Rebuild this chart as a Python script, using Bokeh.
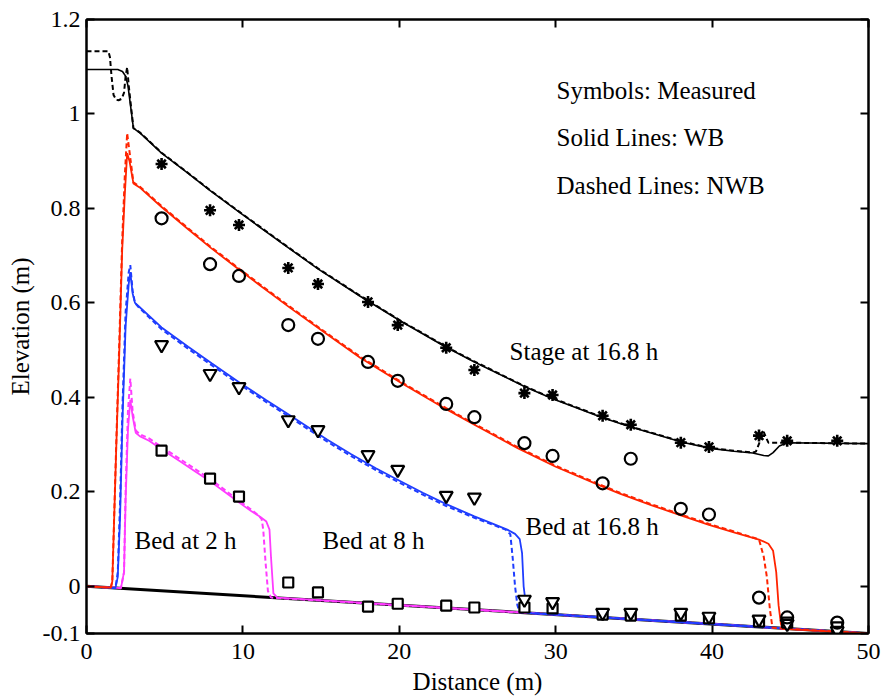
from bokeh.plotting import figure
from bokeh.models import Range1d, FixedTicker, LinearAxis
from bokeh.embed import file_html
from bokeh.resources import INLINE
from bokeh.core.properties import value

# ---- initial bed ----
bed0_x = [0, 50]
bed0_y = [0.0, -0.1]

# ---- simulated bed at 2 h ----
bed2_wb_x = [0, 2.2, 2.4, 2.5, 2.65, 2.8, 2.95, 3.15, 3.4, 4.0, 4.8, 6.0, 7.0, 8.0, 9.0, 9.85, 10.5, 11.1, 11.5, 11.7, 11.8, 11.95, 12.2, 50]
bed2_wb_y = [0.0, -0.004, 0.03, 0.18, 0.33, 0.395, 0.36, 0.325, 0.318, 0.308, 0.29, 0.264, 0.242, 0.22, 0.196, 0.175, 0.16, 0.147, 0.137, 0.12, 0.06, -0.015, -0.024, -0.1]
bed2_nwb_x = [0, 2.2, 2.4, 2.5, 2.65, 2.8, 2.95, 3.15, 3.4, 4.0, 4.8, 6.0, 7.0, 8.0, 9.0, 9.85, 10.5, 11.0, 11.2, 11.3, 11.45, 11.6, 11.8, 50]
bed2_nwb_y = [0.0, -0.004, 0.03, 0.2, 0.37, 0.44, 0.37, 0.33, 0.322, 0.313, 0.295, 0.269, 0.247, 0.225, 0.2, 0.179, 0.163, 0.15, 0.142, 0.12, 0.05, -0.01, -0.024, -0.1]

# ---- simulated bed at 8 h ----
bed8_wb_x = [0, 1.85, 2.0, 2.15, 2.3, 2.5, 2.7, 2.8, 2.95, 3.1, 3.3, 4.8, 6.5, 8.0, 9.8, 11.5, 13.0, 15.4, 16.9, 18.5, 19.8, 21.5, 23.0, 24.8, 26.0, 26.9, 27.4, 27.7, 27.85, 27.95, 28.1, 28.3, 50]
bed8_wb_y = [0.0, -0.004, 0.02, 0.15, 0.35, 0.55, 0.64, 0.665, 0.62, 0.6, 0.594, 0.548, 0.507, 0.472, 0.431, 0.394, 0.362, 0.31, 0.28, 0.25, 0.227, 0.198, 0.174, 0.148, 0.132, 0.12, 0.111, 0.1, 0.07, 0.0, -0.04, -0.057, -0.1]
bed8_nwb_x = [0, 1.85, 2.0, 2.15, 2.3, 2.5, 2.7, 2.8, 2.95, 3.1, 3.3, 4.8, 6.5, 8.0, 9.8, 11.5, 13.0, 15.4, 16.9, 18.5, 19.8, 21.5, 23.0, 24.8, 26.0, 26.8, 27.1, 27.25, 27.4, 27.55, 27.7, 50]
bed8_nwb_y = [0.0, -0.004, 0.03, 0.18, 0.38, 0.58, 0.665, 0.68, 0.625, 0.6, 0.592, 0.544, 0.503, 0.468, 0.427, 0.39, 0.358, 0.306, 0.276, 0.246, 0.223, 0.194, 0.17, 0.145, 0.13, 0.12, 0.11, 0.06, 0.0, -0.04, -0.055, -0.1]

# ---- simulated bed at 16.8 h ----
bed16_wb_x = [0, 1.55, 1.65, 1.9, 2.1, 2.28, 2.45, 2.6, 2.75, 3.0, 3.45, 4.8, 6.5, 7.93, 9.5, 11.1, 13.0, 15.4, 17.5, 20.1, 23.0, 24.8, 27.6, 30.0, 33.0, 34.1, 36.1, 38.0, 39.8, 41.5, 43.0, 43.6, 43.9, 44.1, 44.25, 44.4, 44.5, 50]
bed16_wb_y = [0.0, -0.003, 0.01, 0.29, 0.5, 0.71, 0.83, 0.917, 0.9, 0.853, 0.843, 0.803, 0.756, 0.717, 0.677, 0.637, 0.59, 0.533, 0.484, 0.431, 0.375, 0.342, 0.292, 0.253, 0.211, 0.196, 0.172, 0.15, 0.13, 0.113, 0.099, 0.09, 0.075, 0.03, -0.04, -0.08, -0.09, -0.1]
bed16_nwb_x = [0, 1.55, 1.65, 1.9, 2.1, 2.28, 2.45, 2.6, 2.75, 3.0, 3.45, 4.8, 6.5, 7.93, 9.5, 11.1, 13.0, 15.4, 17.5, 20.1, 23.0, 24.8, 27.6, 30.0, 33.0, 34.1, 36.1, 38.0, 39.8, 41.5, 43.0, 43.3, 43.5, 43.7, 43.86, 50]
bed16_nwb_y = [0.0, -0.003, 0.01, 0.3, 0.52, 0.73, 0.87, 0.959, 0.92, 0.855, 0.845, 0.805, 0.758, 0.719, 0.679, 0.639, 0.592, 0.535, 0.486, 0.433, 0.377, 0.344, 0.294, 0.255, 0.213, 0.198, 0.174, 0.152, 0.132, 0.115, 0.099, 0.063, 0.02, -0.05, -0.088, -0.1]

# ---- simulated water stage at 16.8 h ----
stage_wb_x = [0, 2.0, 2.3, 2.5, 2.65, 3.0, 3.45, 4.8, 6.5, 7.93, 9.85, 12.6, 14.8, 17.5, 20.1, 23.0, 24.8, 28.0, 29.8, 33.0, 34.8, 38.1, 39.9, 41.4, 42.6, 43.3, 43.6, 43.9, 44.3, 44.8, 50]
stage_wb_y = [1.094, 1.094, 1.09, 1.08, 1.06, 0.97, 0.959, 0.917, 0.874, 0.837, 0.79, 0.724, 0.672, 0.614, 0.561, 0.506, 0.475, 0.423, 0.397, 0.357, 0.337, 0.305, 0.292, 0.286, 0.282, 0.277, 0.276, 0.283, 0.297, 0.304, 0.302]
stage_nwb_x = [0, 1.4, 1.5, 1.6, 1.73, 1.9, 2.05, 2.25, 2.4, 2.5, 2.6, 2.7, 3.0, 3.45, 4.8, 6.5, 7.93, 9.85, 12.6, 14.8, 17.5, 20.1, 23.0, 24.8, 28.0, 29.8, 33.0, 34.8, 38.1, 39.9, 41.4, 42.6, 42.8, 43.1, 43.3, 43.45, 43.6, 44.8, 50]
stage_nwb_y = [1.133, 1.133, 1.12, 1.08, 1.04, 1.03, 1.029, 1.032, 1.045, 1.08, 1.099, 1.06, 0.97, 0.96, 0.918, 0.875, 0.838, 0.791, 0.725, 0.673, 0.615, 0.562, 0.507, 0.476, 0.424, 0.398, 0.358, 0.338, 0.306, 0.293, 0.287, 0.283, 0.285, 0.31, 0.327, 0.315, 0.304, 0.304, 0.302]

# ---- measured data ----
meas_x = [4.8, 7.9, 9.75, 12.9, 14.8, 18.0, 19.9, 23.0, 24.8, 28.0, 29.8, 33.0, 34.8, 38.0, 39.8, 43.0, 44.8, 48.0]
meas_stage = [0.894, 0.796, 0.765, 0.674, 0.640, 0.602, 0.553, 0.505, 0.458, 0.409, 0.405, 0.361, 0.342, 0.304, 0.295, 0.319, 0.308, 0.308]
meas_bed16 = [0.779, 0.682, 0.657, 0.553, 0.524, 0.475, 0.435, 0.386, 0.358, 0.303, 0.276, 0.218, 0.270, 0.164, 0.152, -0.024, -0.066, -0.077]
meas_bed8 = [0.511, 0.450, 0.422, 0.352, 0.331, 0.278, 0.247, 0.192, 0.188, -0.028, -0.033, -0.056, -0.056, -0.056, -0.064, -0.070, -0.079, -0.094]
meas_bed2 = [0.287, 0.228, 0.190, 0.008, -0.013, -0.043, -0.037, -0.041, -0.045, -0.045, -0.047, -0.060, -0.062, -0.062, -0.068, -0.075, -0.077, -0.087]

x_ticks = [0, 10, 20, 30, 40, 50]
y_ticks = [-0.1, 0, 0.2, 0.4, 0.6, 0.8, 1, 1.2]
y_tick_labels = ["-0.1", "0", "0.2", "0.4", "0.6", "0.8", "1", "1.2"]

FONT = "Liberation Serif"
RED = "#ff2400"
BLUE = "#1f3dff"
PINK = "#ff3cff"
DASH = "5 3"

p = figure(width=884, height=697, output_backend="svg", toolbar_location=None,
           x_range=Range1d(0, 50), y_range=Range1d(-0.1, 1.2),
           min_border_left=86, min_border_right=16, min_border_top=19, min_border_bottom=63)
p.background_fill_color = "white"
p.border_fill_color = "white"
p.outline_line_color = "black"
p.outline_line_width = 2
p.xgrid.grid_line_color = None
p.ygrid.grid_line_color = None


def box_ticks(ax, ticks):
    ax.ticker = FixedTicker(ticks=ticks)
    ax.major_tick_in = 8
    ax.major_tick_out = 0
    ax.minor_tick_line_color = None
    ax.major_tick_line_width = 2
    ax.axis_line_width = 2
    ax.axis_line_color = "black"
    ax.major_tick_line_color = "black"


for ax, ticks in [(p.xaxis[0], x_ticks), (p.yaxis[0], y_ticks)]:
    box_ticks(ax, ticks)
    ax.major_label_text_font = FONT
    ax.major_label_text_font_size = "24px"
    ax.major_label_text_color = "black"
    ax.axis_label_text_font = FONT
    ax.axis_label_text_font_size = "25px"
    ax.axis_label_text_font_style = "normal"
    ax.axis_label_text_color = "black"

p.xaxis[0].axis_label = "Distance (m)"
p.yaxis[0].axis_label = "Elevation (m)"
p.xaxis[0].major_label_standoff = 10
p.yaxis[0].major_label_standoff = 6
p.xaxis[0].axis_label_standoff = 6
p.yaxis[0].axis_label_standoff = 6
p.yaxis[0].major_label_overrides = {t: s for t, s in zip(y_ticks, y_tick_labels)}

# tick marks only on the top and right sides of the box
for ticks, side in [(x_ticks, "above"), (y_ticks, "right")]:
    ax = LinearAxis()
    box_ticks(ax, ticks)
    ax.major_label_text_color = None
    ax.major_label_text_font_size = "1px"
    ax.major_label_standoff = 0
    p.add_layout(ax, side)

# initial bed
p.line(bed0_x, bed0_y, line_color="black", line_width=3)

# bed profiles: dashed (NWB) and solid (WB)
for xs, ys, xd, yd, col in [
    (bed2_wb_x, bed2_wb_y, bed2_nwb_x, bed2_nwb_y, PINK),
    (bed8_wb_x, bed8_wb_y, bed8_nwb_x, bed8_nwb_y, BLUE),
    (bed16_wb_x, bed16_wb_y, bed16_nwb_x, bed16_nwb_y, RED),
]:
    p.line(xd, yd, line_color=col, line_width=2, line_dash=DASH)
    p.line(xs, ys, line_color=col, line_width=1.8)

# water stage
p.line(stage_nwb_x, stage_nwb_y, line_color="black", line_width=2, line_dash=DASH)
p.line(stage_wb_x, stage_wb_y, line_color="black", line_width=1.6)

# measured values
p.scatter(meas_x, meas_bed2, marker="square", size=10, fill_color="white",
          line_color="black", line_width=2.2)
p.scatter(meas_x, meas_bed8, marker="inverted_triangle", size=13, fill_color="white",
          line_color="black", line_width=2.2)
p.scatter(meas_x, meas_bed16, marker="circle", size=12, fill_color=None,
          line_color="black", line_width=2.2)
p.scatter(meas_x, meas_stage, marker="asterisk", size=12, line_color="black", line_width=2.6)

# annotations
notes_x = [30.05, 30.05, 30.05, 27.05, 3.07, 15.09, 28.07]
notes_y = [1.05, 0.95, 0.849, 0.498, 0.096, 0.096, 0.126]
notes_t = ["Symbols: Measured", "Solid Lines: WB", "Dashed Lines: NWB",
           "Stage at 16.8 h", "Bed at 2 h", "Bed at 8 h", "Bed at 16.8 h"]
p.text(notes_x, notes_y, text=notes_t, text_font=value(FONT), text_font_size="25px",
       text_color="black", text_baseline="middle", text_align="left")

open("out.html", "w").write(file_html(p, INLINE))
